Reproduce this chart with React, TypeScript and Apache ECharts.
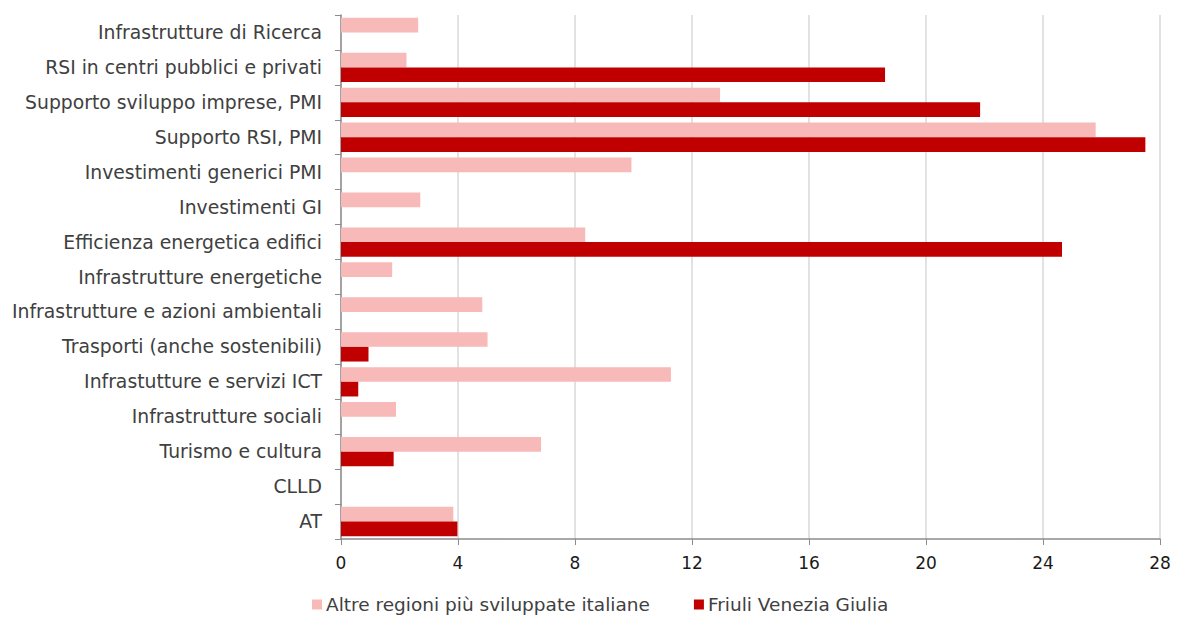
import React, { useEffect, useRef } from "react";
import * as echarts from "echarts";

const categories = [
  "Infrastrutture di Ricerca",
  "RSI in centri pubblici e privati",
  "Supporto sviluppo imprese, PMI",
  "Supporto RSI, PMI",
  "Investimenti generici PMI",
  "Investimenti GI",
  "Efficienza energetica edifici",
  "Infrastrutture energetiche",
  "Infrastrutture e azioni ambientali",
  "Trasporti (anche sostenibili)",
  "Infrastutture e servizi ICT",
  "Infrastrutture sociali",
  "Turismo e cultura",
  "CLLD",
  "AT",
];

const altreRegioni = [2.64, 2.24, 12.96, 25.8, 9.93, 2.71, 8.35, 1.75, 4.83, 5.01, 11.28, 1.88, 6.84, 0, 3.84];
const friuli = [0, 18.6, 21.85, 27.5, 0, 0, 24.65, 0, 0, 0.94, 0.59, 0, 1.8, 0, 3.98];

const xTicks = { min: 0, max: 28, interval: 4 };

export default function App() {
  const ref = useRef<HTMLDivElement>(null);
  useEffect(() => {
    if (!ref.current) return;
    const chart = echarts.init(ref.current, null, { renderer: "svg" });
    const font = "DejaVu Sans";
    chart.setOption({
      animation: false,
      textStyle: { fontFamily: font },
      grid: { left: 341, right: 17, top: 15, bottom: 80, containLabel: false },
      legend: {
        top: 595,
        left: 312,
        padding: 0,
        itemWidth: 10,
        itemHeight: 10,
        itemGap: 44,
        icon: "rect",
        textStyle: {
          fontFamily: font,
          fontSize: 18.5,
          lineHeight: 19,
          color: "#404040",
          padding: [0, 0, 0, -1],
        },
        data: ["Altre regioni più sviluppate italiane", "Friuli Venezia Giulia"],
      },
      xAxis: {
        type: "value",
        min: xTicks.min,
        max: xTicks.max,
        interval: xTicks.interval,
        axisLine: { show: true, lineStyle: { color: "#8c8c8c", width: 1.5 } },
        axisTick: { show: true, length: 6, lineStyle: { color: "#8c8c8c" } },
        axisLabel: { fontSize: 17, color: "#1a1a1a", margin: 15, fontFamily: font },
        splitLine: { show: true, lineStyle: { color: "#d9d9d9", width: 1.5 } },
      },
      yAxis: {
        type: "category",
        inverse: true,
        data: categories,
        axisLine: { show: true, lineStyle: { color: "#8c8c8c", width: 1.5 } },
        axisTick: { show: true, length: 6, lineStyle: { color: "#8c8c8c" } },
        axisLabel: { fontSize: 18.8, color: "#404040", margin: 19, fontFamily: font },
      },
      series: [
        {
          name: "Altre regioni più sviluppate italiane",
          type: "bar",
          data: altreRegioni,
          barGap: "0%",
          barCategoryGap: "16%",
          itemStyle: { color: "#F8B9B9" },
        },
        {
          name: "Friuli Venezia Giulia",
          type: "bar",
          data: friuli,
          barGap: "0%",
          barCategoryGap: "16%",
          itemStyle: { color: "#C00000" },
        },
      ],
    });
    return () => chart.dispose();
  }, []);
  return (
    <div
      ref={ref}
      style={{ position: "absolute", left: 0, top: 0, width: 1177, height: 619 }}
    />
  );
}
